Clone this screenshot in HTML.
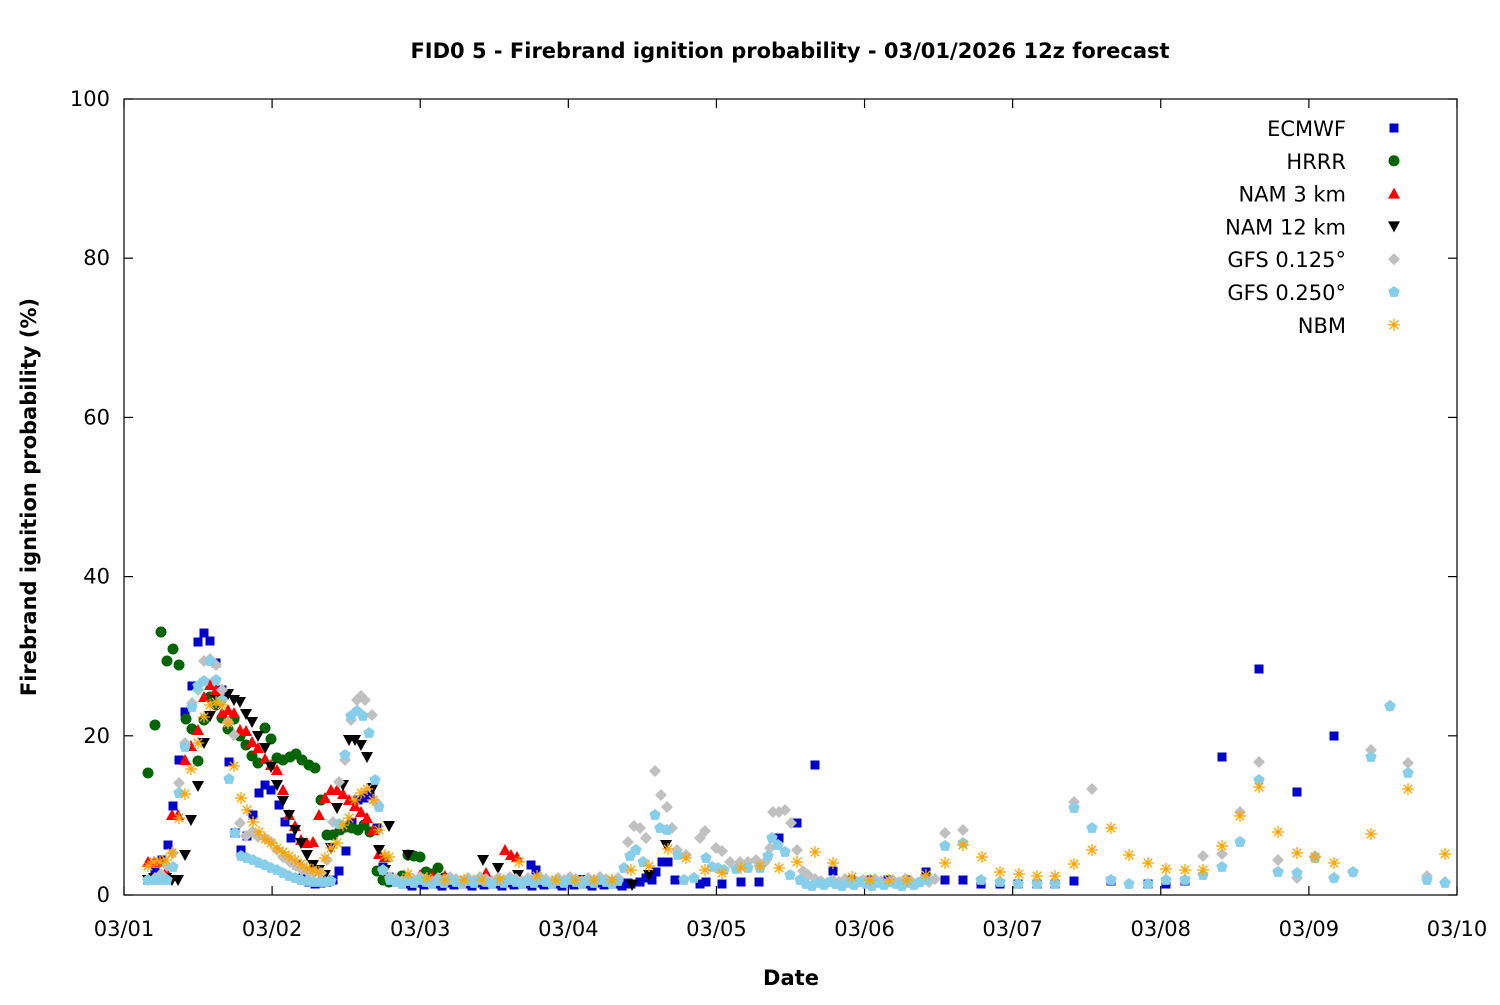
<!DOCTYPE html>
<html><head><meta charset="utf-8"><style>
html,body{margin:0;padding:0;background:#fff}
svg text{font-family:"DejaVu Sans","Liberation Sans",sans-serif}
</style></head><body>
<svg id="s" width="1500" height="1000" xmlns="http://www.w3.org/2000/svg">
<rect width="1500" height="1000" fill="#fff"/>
<text x="790" y="58" text-anchor="middle" font-size="21" font-weight="bold">FID0 5 - Firebrand ignition probability - 03/01/2026 12z forecast</text>
<rect x="124" y="99" width="1333" height="796" fill="none" stroke="#000" stroke-width="1.2"/>
<g id="ticks" stroke="#000" stroke-width="1.2"></g>
<g id="labels" font-size="21"></g>
<text x="791" y="985" text-anchor="middle" font-size="21" font-weight="bold">Date</text>
<text transform="translate(36,497) rotate(-90)" text-anchor="middle" font-size="21" font-weight="bold">Firebrand ignition probability (%)</text>
<g id="data"></g>
<g id="legend" font-size="21"></g>
</svg>
<script>
const NS="http://www.w3.org/2000/svg";
function el(p,t,a,txt){const e=document.createElementNS(NS,t);for(const k in a)e.setAttribute(k,a[k]);if(txt!==undefined)e.textContent=txt;p.appendChild(e);return e;}
const tk=document.getElementById('ticks'),lb=document.getElementById('labels');
for(let i=0;i<=5;i++){const y=895-i*159.2;el(tk,'line',{x1:124,y1:y,x2:133,y2:y});el(tk,'line',{x1:1457,y1:y,x2:1448,y2:y});
el(lb,'text',{x:110,y:y+7,'text-anchor':'end'},String(i*20));}
for(let d=0;d<=9;d++){const x=124+d*148.11;el(tk,'line',{x1:x,y1:895,x2:x,y2:886});el(tk,'line',{x1:x,y1:99,x2:x,y2:108});
el(lb,'text',{x:x,y:936,'text-anchor':'middle'},'03/'+String(d+1).padStart(2,'0'));}
function sym(g,type,x,y,c){
 if(type==='sq')el(g,'rect',{x:x-4.5,y:y-4.5,width:9,height:9,fill:c});
 else if(type==='ci')el(g,'circle',{cx:x,cy:y,r:5.5,fill:c});
 else if(type==='tu')el(g,'polygon',{points:`${x},${y-6} ${x+6},${y+5} ${x-6},${y+5}`,fill:c});
 else if(type==='td')el(g,'polygon',{points:`${x},${y+6} ${x+6},${y-5} ${x-6},${y-5}`,fill:c});
 else if(type==='di')el(g,'polygon',{points:`${x},${y-6} ${x+6},${y} ${x},${y+6} ${x-6},${y}`,fill:c});
 else if(type==='pe'){let p=[];for(let i=0;i<5;i++){const a=-Math.PI/2+i*2*Math.PI/5;p.push((x+6*Math.cos(a)).toFixed(1)+','+(y+6*Math.sin(a)).toFixed(1));}el(g,'polygon',{points:p.join(' '),fill:c});}
 else if(type==='as'){for(let i=0;i<4;i++){const a=i*Math.PI/4;el(g,'line',{x1:x-6*Math.cos(a),y1:y-6*Math.sin(a),x2:x+6*Math.cos(a),y2:y+6*Math.sin(a),stroke:c,'stroke-width':1.3});}}
}
function P(s){return s.trim().split(/\s+/).map(t=>t.split(',').map(Number));}
function fill(a,b,step,y){let r=[];for(let x=a;x<=b;x+=step)r.push([x,y+((x*7)%5)-2]);return r;}
const series=[
['sq','#0000cc',P(`148,880 155,872 162,860 168,845 173,806 179,760 185,712 192,686 198,642 204,633 210,641 216,663 222,690 229,762 235,833 241,850 247,836 253,815 259,793 265,785 271,790 279,805 285,822 291,838 297,865 303,878 309,882 315,884 321,883 327,882 333,880 339,871 346,851 352,822 358,800 364,798 370,795 377,828 383,867 389,877 395,880 531,865 536,870 631,884 640,882 646,878 652,880 656,872 662,862 668,862 675,880 700,884 706,882 722,884 741,882 759,882 779,838 797,823 815,765 833,871 851,880 870,880 888,880 907,880 926,872 945,880 963,880 981,884 1000,884 1018,884 1037,884 1055,884 1074,881 1111,881 1148,884 1166,884 1185,881 1222,757 1259,669 1297,792 1334,736`).concat(fill(400,630,6,884))],
['ci','#006400',P(`148,773 155,725 161,632 167,661 173,649 179,665 186,719 192,729 198,761 204,720 210,697 216,705 222,718 228,729 234,719 240,736 246,745 252,756 258,763 265,728 271,739 277,758 283,760 290,757 296,754 302,760 309,765 315,768 321,800 327,835 333,835 340,830 346,827 352,828 358,830 364,825 370,832 377,871 383,880 389,882 396,880 402,876 408,855 414,856 420,857 426,872 432,874 438,868 444,878 450,880 456,881`)],
['tu','#ff0000',P(`148,862 154,862 160,862 166,872 172,815 178,815 185,760 191,746 198,730 204,697 210,685 216,690 222,713 228,710 234,713 240,730 246,731 252,742 258,748 265,759 271,765 277,770 283,790 289,815 295,826 301,840 307,843 313,842 319,815 325,798 331,790 337,790 343,794 349,800 355,806 361,812 367,818 373,830 379,854 385,857 420,875 432,876 445,876 486,873 505,850 511,855 517,857`)],
['td','#000000',P(`148,880 154,878 160,878 166,878 172,880 178,880 185,855 191,820 198,786 204,743 210,716 216,700 222,700 228,694 234,700 240,702 246,714 252,722 258,736 265,748 271,767 277,785 283,801 289,815 295,830 301,843 307,855 313,865 319,870 325,875 331,848 337,808 343,785 349,740 355,740 361,745 367,757 373,788 379,850 385,870 389,826 408,855 483,860 498,868 518,875 580,880 632,885 649,875 666,845`)],
['di','#c0c0c0',P(`148,880 155,878 161,874 167,866 173,853 179,783 185,743 192,703 198,690 204,661 210,659 216,665 222,690 228,722 234,735 240,823 246,836 252,832 258,837 265,838 271,842 277,850 283,857 290,862 296,866 302,870 309,873 315,872 321,873 327,860 333,822 339,782 345,760 351,720 357,700 361,696 365,700 372,715 377,803 383,870 628,842 634,826 640,828 646,838 655,771 661,795 667,807 672,828 677,850 686,855 700,838 705,831 716,848 722,851 730,862 740,862 748,862 756,860 765,862 770,848 773,812 779,812 785,810 791,823 797,850 803,871 808,875 945,833 963,830 1074,802 1092,789 1203,856 1222,854 1240,812 1259,762 1278,860 1297,878 1315,856 1334,878 1353,872 1371,750 1390,706 1408,763 1427,876 1445,882`).concat(fill(390,620,6,879)).concat(fill(815,940,6,881))],
['pe','#87ceeb',P(`148,880 155,880 161,880 167,880 173,867 179,793 185,747 192,707 198,686 204,681 210,661 216,680 222,700 229,779 235,833 241,856 247,858 253,860 259,863 265,865 271,868 277,870 283,873 289,876 295,878 301,880 307,881 313,882 319,882 325,882 331,881 339,824 345,755 351,716 357,711 363,716 369,733 375,780 379,807 383,870 624,868 630,856 636,850 643,862 655,815 660,828 667,830 678,855 684,880 694,878 706,858 712,867 718,868 724,870 736,869 748,868 760,868 768,856 772,838 778,845 785,852 790,875 800,880 926,880 945,846 963,843 981,880 1000,882 1018,884 1037,884 1055,884 1074,808 1092,828 1111,880 1129,884 1148,884 1166,880 1185,880 1203,875 1222,867 1240,842 1259,780 1278,872 1297,873 1315,858 1334,878 1353,872 1371,757 1390,706 1408,773 1427,880 1445,883`).concat(fill(390,620,6,882)).concat(fill(806,925,6,884))],
['as','#ffa500',P(`148,866 154,862 160,862 166,860 172,853 179,818 185,794 191,769 198,743 204,717 210,705 216,702 222,705 228,723 234,766 241,798 247,810 253,822 259,832 265,839 271,843 277,848 283,852 289,856 295,860 301,864 307,868 313,870 319,872 325,858 331,848 337,843 343,825 349,818 355,800 361,793 367,789 373,800 379,830 385,855 389,857 408,874 427,878 445,880 464,880 482,880 500,879 519,862 537,876 556,880 575,880 594,880 612,880 631,870 649,866 668,849 686,858 705,870 722,873 741,868 760,866 779,868 797,862 815,852 833,863 852,877 870,880 889,880 907,880 926,875 945,863 963,845 982,857 1000,872 1019,874 1037,876 1055,876 1074,864 1092,850 1111,828 1129,855 1148,863 1166,869 1185,870 1203,870 1222,846 1240,816 1259,787 1278,832 1297,853 1315,857 1334,863 1371,834 1408,789 1445,854`)]
];
const dg=document.getElementById('data');
series.forEach(s=>s[2].forEach(p=>sym(dg,s[0],p[0],p[1],s[1])));
const names=['ECMWF','HRRR','NAM 3 km','NAM 12 km','GFS 0.125°','GFS 0.250°','NBM'];
const lg=document.getElementById('legend');
names.forEach((n,i)=>{const y=128+i*32.8;el(lg,'text',{x:1346,y:y+8,'text-anchor':'end'},n);sym(lg,series[i][0],1394,y,series[i][1]);});
</script>
</body></html>
